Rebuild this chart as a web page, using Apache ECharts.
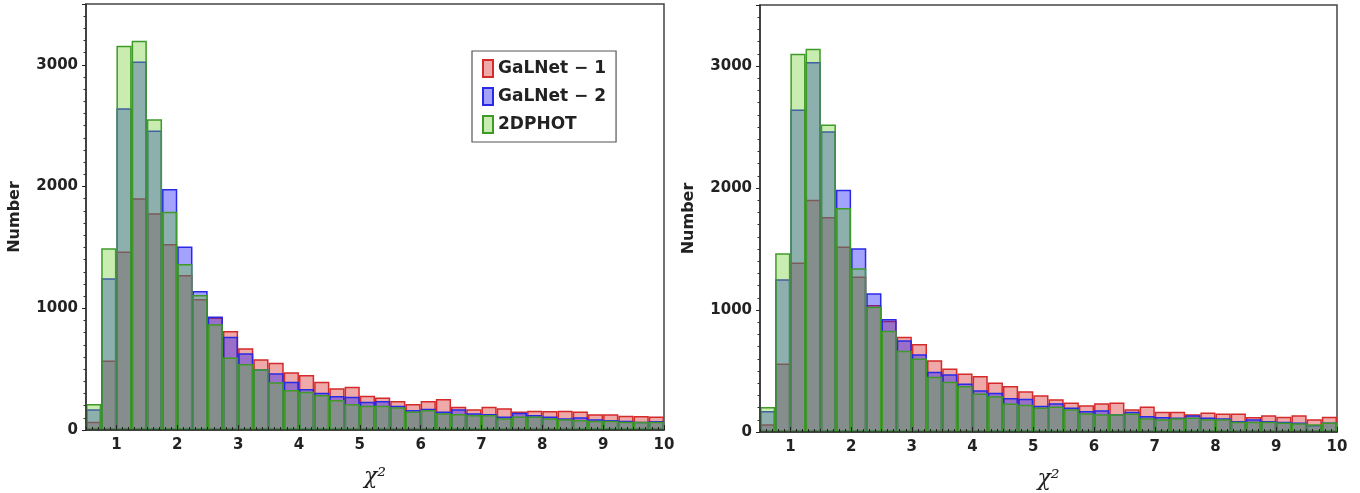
<!DOCTYPE html>
<html>
<head>
<meta charset="utf-8">
<script src="https://cdn.jsdelivr.net/npm/echarts@6/dist/echarts.min.js"></script>
<style>
    html, body { margin: 0; padding: 0; background: #fff; }
    #main { width: 1360px; height: 493px; }
</style>
</head>
<body>
<div id="main"></div>
<script>
// bins of width 0.25 from 0.5 to 10
var binLabels = ['0.5', '0.75', '1', '1.25', '1.5', '1.75', '2', '2.25', '2.5', '2.75',
    '3', '3.25', '3.5', '3.75', '4', '4.25', '4.5', '4.75', '5', '5.25',
    '5.5', '5.75', '6', '6.25', '6.5', '6.75', '7', '7.25', '7.5', '7.75',
    '8', '8.25', '8.5', '8.75', '9', '9.25', '9.5', '9.75'];

var seriesNames = ['GaLNet \u2212 1', 'GaLNet \u2212 2', '2DPHOT'];

var leftRed = [68, 570, 1466, 1904, 1780, 1529, 1274, 1077, 925, 814, 671, 581, 553, 474, 452, 397, 342, 356, 282, 268, 238, 214, 238, 255, 192, 170, 192, 178, 151, 159, 156, 159, 151, 129, 129, 118, 115, 110];
var leftBlue = [170, 1247, 2643, 3027, 2460, 1980, 1507, 1142, 932, 767, 630, 499, 466, 397, 337, 307, 279, 274, 233, 238, 200, 164, 175, 151, 170, 137, 132, 110, 142, 123, 110, 96, 104, 88, 82, 77, 68, 74];
var leftGreen = [214, 1493, 3158, 3199, 2553, 1794, 1364, 1110, 868, 595, 542, 499, 392, 329, 315, 288, 247, 214, 200, 200, 186, 151, 164, 137, 132, 123, 123, 96, 110, 110, 96, 88, 82, 77, 77, 68, 68, 68];

var rightRed = [63, 562, 1389, 1904, 1762, 1521, 1274, 1041, 912, 781, 721, 589, 521, 479, 460, 405, 378, 333, 301, 268, 241, 219, 236, 241, 186, 208, 167, 167, 145, 159, 151, 151, 123, 137, 126, 137, 104, 126];
var rightBlue = [173, 1252, 2643, 3032, 2465, 1986, 1507, 1137, 926, 753, 638, 493, 474, 397, 342, 321, 279, 272, 215, 236, 200, 173, 178, 145, 167, 132, 123, 118, 137, 118, 112, 90, 104, 90, 85, 77, 58, 77];
var rightGreen = [205, 1466, 3101, 3142, 2520, 1836, 1342, 1027, 830, 666, 603, 452, 411, 378, 315, 293, 233, 224, 200, 208, 186, 153, 145, 145, 151, 112, 104, 112, 118, 104, 104, 85, 85, 85, 77, 71, 63, 77];

var xTicks = [1, 2, 3, 4, 5, 6, 7, 8, 9, 10];
var yTicks = [0, 1000, 2000, 3000];

function initChart() {
    var chart = echarts.init(document.getElementById('main'));

    var fills = ['rgba(215,40,40,0.4)', 'rgba(25,25,250,0.4)', 'rgba(100,200,30,0.35)'];
    var edges = ['#d42a2a', '#2a2ae6', '#3f9a28'];
    var font = 'DejaVu Sans';

    var xAxes = [];
    var yAxes = [];
    for (var g = 0; g < 2; g++) {
        // hidden category axis that holds the bins
        xAxes.push({
            type: 'category',
            gridIndex: g,
            position: 'bottom',
            data: binLabels,
            show: false,
            boundaryGap: true
        });
        // visible value axis for the tick labels
        xAxes.push({
            type: 'value',
            gridIndex: g,
            position: 'bottom',
            z: 5,
            min: 0.5,
            max: 10,
            name: 'χ²',
            nameLocation: 'middle',
            nameGap: 36,
            nameTextStyle: { fontFamily: 'DejaVu Serif', fontStyle: 'italic', fontSize: 22, color: '#222' },
            axisLine: { show: true, lineStyle: { color: '#333', width: 1.5 } },
            axisTick: { show: true, inside: true, length: 5, customValues: xTicks, lineStyle: { color: '#222' } },
            axisLabel: { customValues: xTicks, margin: 8, fontFamily: font, fontWeight: 'bold', fontSize: 15, color: '#222' },
            splitLine: { show: false }
        });
        // minor ticks along x, every 0.1
        xAxes.push({
            type: 'value',
            gridIndex: g,
            position: 'bottom',
            z: 5,
            min: 0.5,
            max: 10,
            interval: 0.5,
            axisLine: { show: false },
            axisTick: { show: true, inside: true, length: 3, lineStyle: { color: '#222' } },
            minorTick: { show: true, splitNumber: 5, length: 3, lineStyle: { color: '#222' } },
            axisLabel: { show: false },
            splitLine: { show: false }
        });
        yAxes.push({
            type: 'value',
            gridIndex: g,
            position: 'left',
            z: 5,
            min: 0,
            max: 3500,
            interval: 1000,
            name: 'Number',
            nameLocation: 'middle',
            nameGap: 63,
            nameTextStyle: { fontFamily: font, fontWeight: 'bold', fontSize: 16, color: '#222' },
            axisLine: { show: true, lineStyle: { color: '#333', width: 1.5 } },
            axisTick: { show: true, length: 4, lineStyle: { color: '#222' } },
            minorTick: { show: true, splitNumber: 10, length: 2.5, lineStyle: { color: '#333' } },
            axisLabel: {
                showMaxLabel: false, margin: 8, fontFamily: font, fontWeight: 'bold', fontSize: 15, color: '#222',
                formatter: function (val) { return String(val); }
            },
            splitLine: { show: false }
        });
    }

    var panels = [[leftRed, leftBlue, leftGreen], [rightRed, rightBlue, rightGreen]];
    var series = [];
    for (var p = 0; p < 2; p++) {
        for (var s = 0; s < 3; s++) {
            series.push({
                name: seriesNames[s],
                type: 'bar',
                xAxisIndex: p * 3,
                yAxisIndex: p,
                data: panels[p][s],
                barGap: '-100%',
                barCategoryGap: 0,
                itemStyle: { color: fills[s], borderColor: edges[s], borderWidth: 1.5 },
                emphasis: { disabled: true },
                silent: true,
                animation: false
            });
        }
    }

    chart.setOption({
        animation: false,
        grid: [
            { left: 86, top: 4, width: 578, height: 426, outerBoundsMode: 'none', show: true, borderColor: '#444', borderWidth: 1.5, backgroundColor: '#fff' },
            { left: 760, top: 5, width: 577, height: 427, outerBoundsMode: 'none', show: true, borderColor: '#444', borderWidth: 1.5, backgroundColor: '#fff' }
        ],
        legend: {
            data: seriesNames,
            left: 472,
            top: 51,
            orient: 'vertical',
            icon: 'rect',
            itemWidth: 10,
            itemHeight: 17,
            itemGap: 9,
            padding: [8, 10, 8, 10],
            borderColor: '#555',
            borderWidth: 1.2,
            textStyle: { fontFamily: font, fontWeight: 'bold', fontSize: 17, color: '#222' }
        },
        xAxis: xAxes,
        yAxis: yAxes,
        series: series
    });
}

initChart();
</script>
</body>
</html>
